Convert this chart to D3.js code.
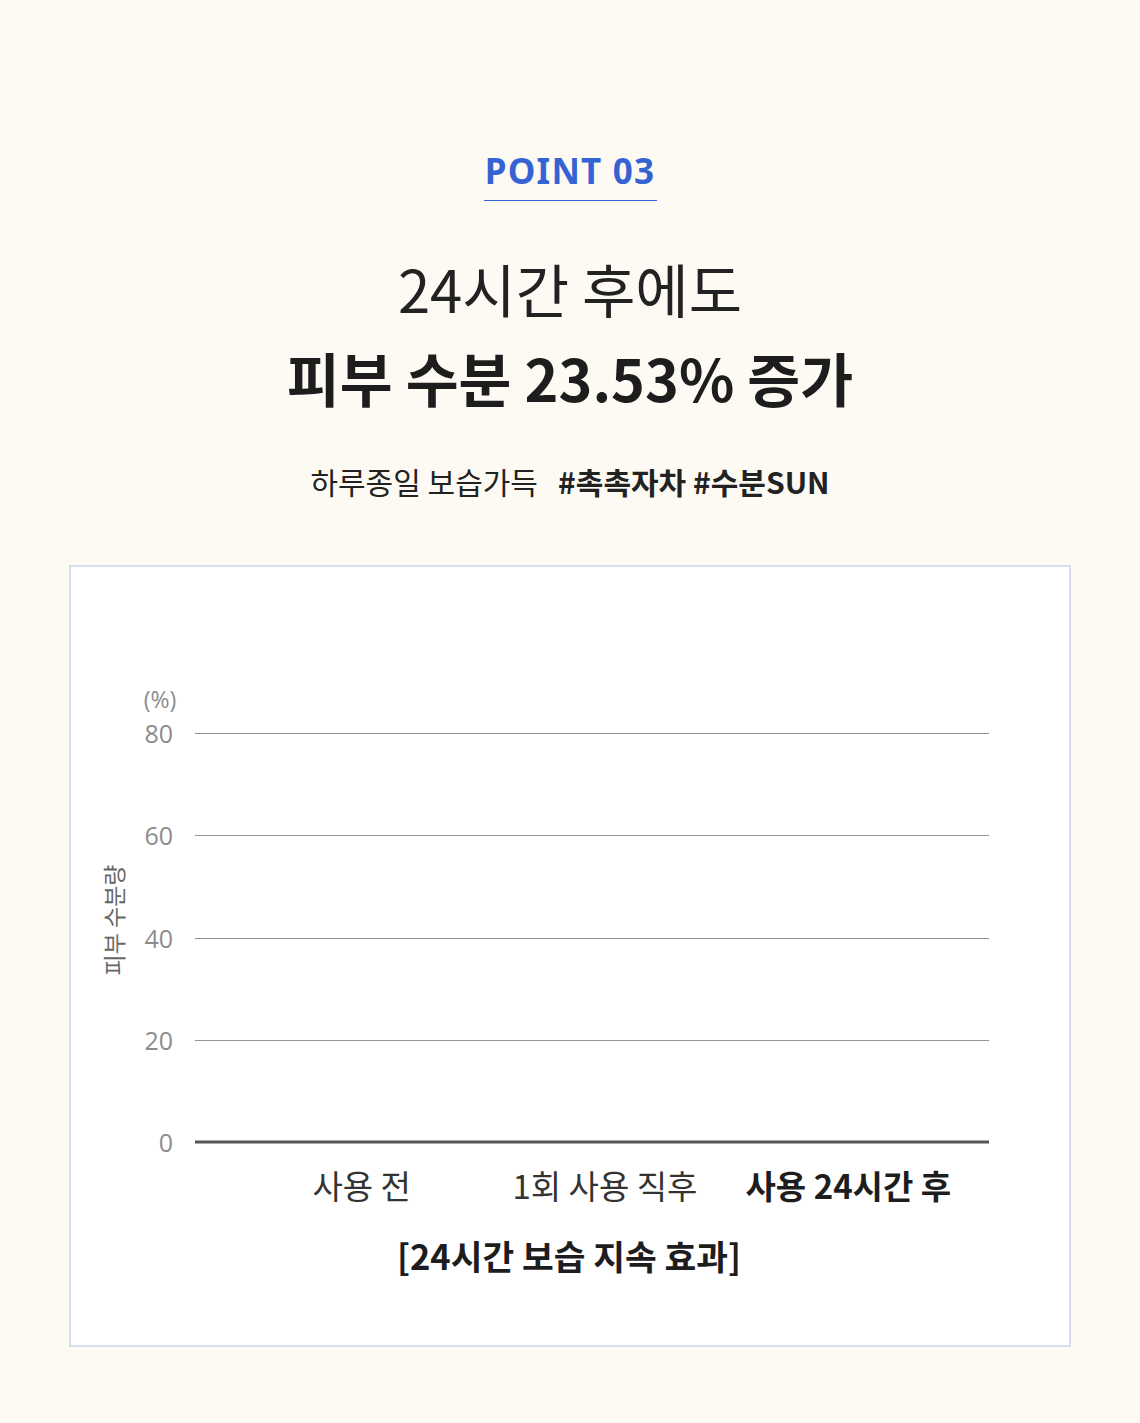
<!DOCTYPE html>
<html>
<head>
<meta charset="utf-8">
<script src="https://cdn.jsdelivr.net/npm/d3@7"></script>
<style>
  html, body { margin: 0; padding: 0; background: #fdfaf3; }
  svg { display: block; font-family: "Noto Sans CJK KR", "Noto Sans", sans-serif; }
</style>
</head>
<body>
<script>
// chart data
const categories = ["사용 전", "1회 사용 직후", "사용 24시간 후"];
const highlighted = "사용 24시간 후";
const yTicks = [0, 20, 40, 60, 80];
const yUnit = "(%)";
const yTitle = "피부 수분량";
const chartTitle = "[24시간 보습 지속 효과]";

const width = 1140;
const height = 1423;

const svg = d3
  .select("body")
  .append("svg")
  .attr("width", width)
  .attr("height", height);

svg.append("rect").attr("width", width).attr("height", height).attr("fill", "#fdfaf3");

// header
svg.append("text")
  .attr("x", 570).attr("y", 184)
  .attr("text-anchor", "middle")
  .attr("font-family", "'Noto Sans', 'Open Sans', sans-serif")
  .attr("font-size", 35).attr("font-weight", 700)
  .attr("letter-spacing", 1.2)
  .attr("fill", "#3563d4")
  .text("POINT 03");

svg.append("line")
  .attr("x1", 484).attr("x2", 657)
  .attr("y1", 200.5).attr("y2", 200.5)
  .attr("stroke", "#3563d4").attr("stroke-width", 1.2);

svg.append("text")
  .attr("x", 570).attr("y", 313)
  .attr("text-anchor", "middle")
  .attr("font-size", 58).attr("font-weight", 400)
  .attr("fill", "#222")
  .text("24시간 후에도");

svg.append("text")
  .attr("x", 570).attr("y", 402)
  .attr("text-anchor", "middle")
  .attr("font-size", 57.5).attr("font-weight", 700)
  .attr("fill", "#1d1d1d")
  .text("피부 수분 23.53% 증가");

const sub = svg.append("text")
  .attr("x", 570).attr("y", 494)
  .attr("text-anchor", "middle")
  .attr("font-size", 30)
  .attr("fill", "#222");
sub.append("tspan").attr("font-weight", 400).text("하루종일 보습가득\u00a0\u00a0\u00a0");
sub.append("tspan").attr("font-weight", 700).text("#촉촉자차 #수분SUN");

// card
svg.append("rect")
  .attr("x", 70).attr("y", 566)
  .attr("width", 1000).attr("height", 780)
  .attr("fill", "#fff")
  .attr("stroke", "#d7def0").attr("stroke-width", 2);

// scales
const plot = { left: 195, right: 989, top: 733, bottom: 1142 };

const y = d3.scaleLinear()
  .domain([0, 80])
  .range([plot.bottom, plot.top]);

const x = d3.scaleBand()
  .domain(categories)
  .range([240, 970]);

const g = svg.append("g");

// grid lines
g.selectAll(".grid")
  .data(yTicks.filter(d => d !== 0))
  .enter()
  .append("line")
  .attr("class", "grid")
  .attr("x1", plot.left).attr("x2", plot.right)
  .attr("y1", d => Math.round(y(d)) + 0.5)
  .attr("y2", d => Math.round(y(d)) + 0.5)
  .attr("stroke", "#7a7a7a").attr("stroke-width", 0.8);

// baseline
g.append("line")
  .attr("x1", plot.left).attr("x2", plot.right)
  .attr("y1", y(0)).attr("y2", y(0))
  .attr("stroke", "#555").attr("stroke-width", 3);

// y tick labels
g.selectAll(".ytick")
  .data(yTicks)
  .enter()
  .append("text")
  .attr("class", "ytick")
  .attr("x", 173)
  .attr("y", d => y(d) + 10)
  .attr("text-anchor", "end")
  .attr("font-family", "'Open Sans', 'Noto Sans', sans-serif")
  .attr("font-size", 25)
  .attr("fill", "#8c8c8c")
  .text(d => d);

g.append("text")
  .attr("x", 160).attr("y", 708)
  .attr("text-anchor", "middle")
  .attr("font-family", "'Open Sans', 'Noto Sans', sans-serif")
  .attr("font-size", 23)
  .attr("fill", "#8c8c8c")
  .text(yUnit);

g.append("text")
  .attr("transform", "translate(123, 920) rotate(-90)")
  .attr("text-anchor", "middle")
  .attr("font-size", 23)
  .attr("fill", "#666")
  .text(yTitle);

// category labels
g.selectAll(".xlabel")
  .data(categories)
  .enter()
  .append("text")
  .attr("class", "xlabel")
  .attr("x", d => x(d) + x.bandwidth() / 2)
  .attr("y", 1199)
  .attr("text-anchor", "middle")
  .attr("font-size", 33)
  .attr("font-weight", d => d === highlighted ? 700 : 400)
  .attr("fill", d => d === highlighted ? "#1d1d1d" : "#333")
  .text(d => d);

// chart title
svg.append("text")
  .attr("x", 569).attr("y", 1270)
  .attr("text-anchor", "middle")
  .attr("font-size", 34.5).attr("font-weight", 700)
  .attr("fill", "#1d1d1d")
  .text(chartTitle);
</script>
</body>
</html>
